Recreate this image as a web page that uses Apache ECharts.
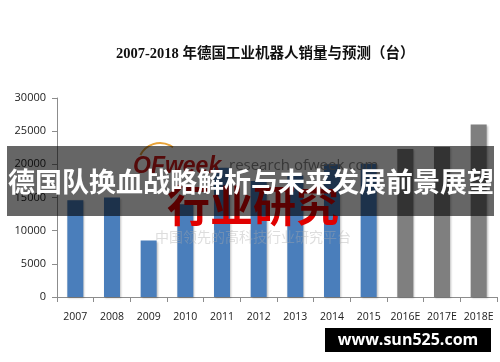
<!DOCTYPE html>
<html><head><meta charset="utf-8">
<script src="https://cdn.jsdelivr.net/npm/echarts@6/dist/echarts.min.js"></script>
<style>html,body{margin:0;padding:0;background:#fff}#c{width:500px;height:362px}</style>
</head><body><div id="c"></div>
<script>
const titleText = '2007-2018 年德国工业机器人销量与预测（台）';
const categories = ['2007','2008','2009','2010','2011','2012','2013','2014','2015','2016E','2017E','2018E'];
const sales = [14600, 15000, 8500, 14000, 19500, 17500, 18300, 20000, 20100, 22300, 22600, 26000];
const yTicks = [0, 5000, 10000, 15000, 20000, 25000, 30000];
const bannerText = '德国队换血战略解析与未来发展前景展望';
const footerText = 'www.sun525.com';

const chart = echarts.init(document.getElementById('c'), null, {renderer:'canvas'});
const colorActual = '#4a7ebb', colorForecast = '#7f7f7f';
chart.setOption({
  animation:false,
  backgroundColor:'#fff',
  title:{text:titleText, left:111, top:42,
    textStyle:{fontSize:14.5, fontWeight:'bold', color:'#111', fontFamily:'"Liberation Serif","Noto Sans CJK SC",serif'}},
  grid:{left:57, right:3, top:98, bottom:65},
  xAxis:{type:'category', data:categories,
    axisLine:{lineStyle:{color:'#8c8c8c', width:1}},
    axisTick:{show:true, alignWithLabel:false, length:5, lineStyle:{color:'#8c8c8c'}},
    axisLabel:{interval:0, color:'#222', fontSize:10.5, margin:15, fontFamily:'"Open Sans","DejaVu Sans",sans-serif'}},
  yAxis:{type:'value', min:yTicks[0], max:yTicks[yTicks.length-1], interval:yTicks[1]-yTicks[0],
    axisLine:{show:true, lineStyle:{color:'#8c8c8c'}},
    axisTick:{show:true, length:5, lineStyle:{color:'#8c8c8c'}},
    splitLine:{show:false},
    axisLabel:{formatter:v=>String(v), color:'#222', fontSize:11, margin:11, fontFamily:'"Open Sans","DejaVu Sans",sans-serif'}},
  series:[{type:'bar', barWidth:16,
    data: sales.map((v,i)=>({value:v, itemStyle:{color: categories[i].endsWith('E') ? colorForecast : colorActual}})),
    itemStyle:{shadowColor:'rgba(0,0,0,0.25)', shadowBlur:2, shadowOffsetX:1, shadowOffsetY:1}}],
  graphic:[
    {type:'arc', z:50, shape:{cx:160, cy:165, r:22, startAngle:Math.PI*1.15, endAngle:Math.PI*1.7}, style:{stroke:'#e8a33a', lineWidth:2, fill:null}},
    {type:'text', z:50, x:133, y:155, style:{text:'OFweek', fill:'#d41a1a', font:'italic bold 23px "Liberation Sans",Arial,sans-serif'}},
    {type:'text', z:50, x:229, y:158, style:{text:'research.ofweek.com', fill:'#8a8a8a', font:'15px "Open Sans","DejaVu Sans",sans-serif'}},
    {type:'text', z:50, x:253, y:206, style:{text:'行业研究', fill:'#e00000', align:'center', verticalAlign:'middle', font:'bold 43px "Noto Sans CJK SC",sans-serif'}},
    {type:'text', z:50, x:253, y:237, style:{text:'中国领先的高科技行业研究平台', fill:'rgba(170,170,170,0.4)', align:'center', verticalAlign:'middle', font:'14px "Noto Sans CJK SC",serif'}},
    {type:'rect', z:100, shape:{x:7, y:146, width:487, height:70}, style:{fill:'rgba(0,0,0,0.6)'}},
    {type:'text', z:101, x:251, y:182, style:{text:bannerText, fill:'#fff', align:'center', verticalAlign:'middle', font:'bold 27px "Noto Sans CJK SC",sans-serif'}},
    {type:'rect', z:100, shape:{x:325, y:328, width:166, height:24}, style:{fill:'#000'}},
    {type:'text', z:101, x:408, y:340, style:{text:footerText, fill:'#fff', align:'center', verticalAlign:'middle', font:'bold 16px "Open Sans","DejaVu Sans",sans-serif'}}
  ]
});
</script></body></html>
